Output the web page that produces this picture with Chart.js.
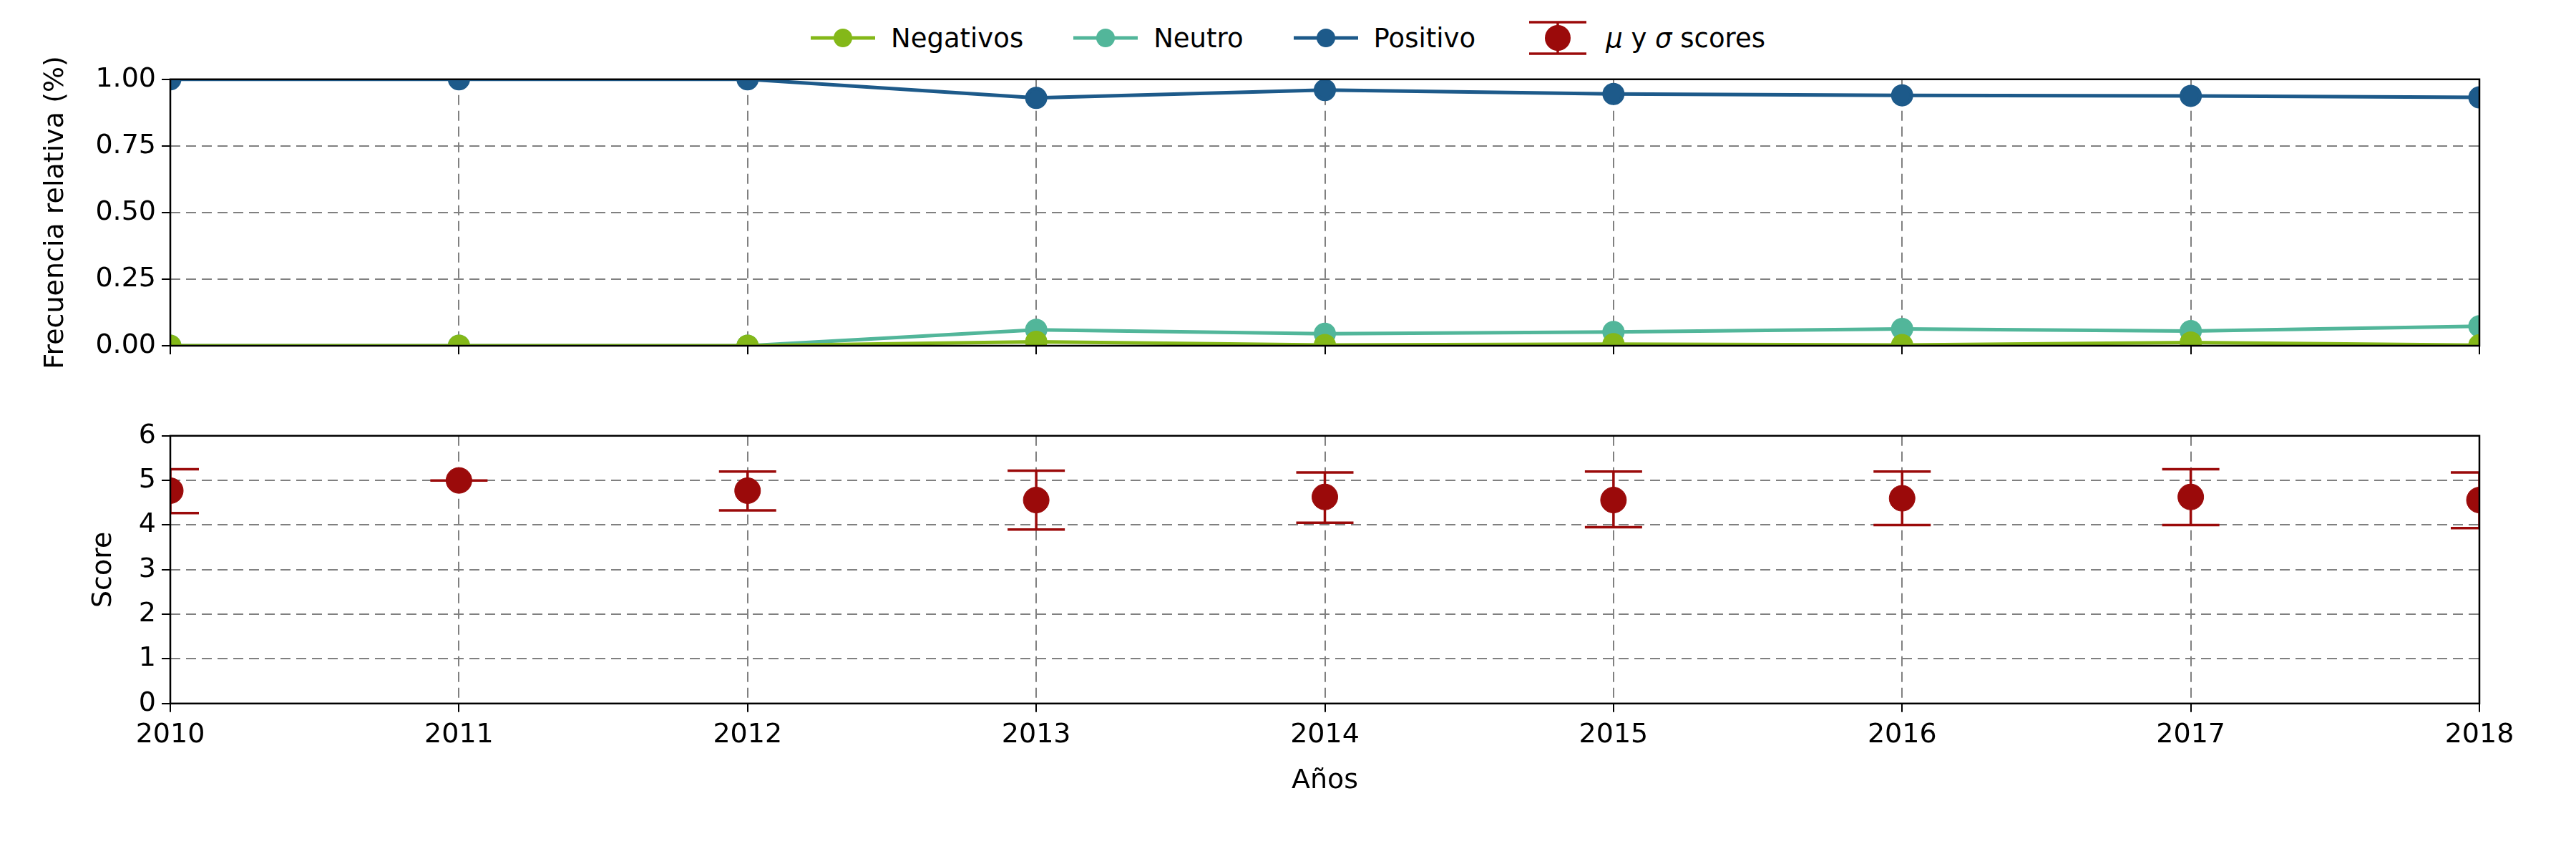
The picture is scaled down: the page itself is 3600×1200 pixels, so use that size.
<!DOCTYPE html>
<html>
<head>
<meta charset="utf-8">
<script src="https://cdn.jsdelivr.net/npm/chart.js@4/dist/chart.umd.min.js"></script>
<style>
body { margin: 0; background: #fff; width: 3600px; height: 1200px; position: relative; font-family: "DejaVu Sans", sans-serif; }
#legend { position: absolute; top: 28px; left: 0; width: 3600px; display: flex; justify-content: center; gap: 70px; font-size: 37px; color: #000; align-items: center; }
.item { display: flex; align-items: center; gap: 22px; }
#c1wrap { position: absolute; left: 0; top: 80px; width: 3600px; height: 480px; }
#c2wrap { position: absolute; left: 0; top: 578px; width: 3600px; height: 560px; }
</style>
</head>
<body>
<div id="legend"></div>
<div id="c1wrap"><canvas id="freqChart"></canvas></div>
<div id="c2wrap"><canvas id="scoreChart"></canvas></div>
<script>
const years = [2010, 2011, 2012, 2013, 2014, 2015, 2016, 2017, 2018];
const negativos = [0, 0, 0, 0.015, 0.003, 0.006, 0.003, 0.012, 0.002];
const neutro = [0, 0, 0, 0.06, 0.045, 0.052, 0.063, 0.055, 0.073];
const positivo = [1, 1, 1, 0.93, 0.96, 0.945, 0.94, 0.938, 0.932];
const scoreMean = [4.77, 5.0, 4.77, 4.56, 4.63, 4.56, 4.6, 4.63, 4.56];
const scoreLow = [4.27, 5.0, 4.33, 3.9, 4.05, 3.95, 4.0, 4.0, 3.93];
const scoreHigh = [5.25, 5.0, 5.2, 5.22, 5.18, 5.2, 5.2, 5.25, 5.18];
const freqTicks = [0, 0.25, 0.5, 0.75, 1.0];
const scoreTicks = [0, 1, 2, 3, 4, 5, 6];

const FONT = { family: 'DejaVu Sans', size: 38 };
const GRID = '#808080';
const RED = '#9b0a0a';

function pts(arr) { return arr.map((v, i) => ({ x: years[i], y: v })); }

// box around the plot area
const boxPlugin = {
    id: 'box',
    afterDraw(chart) {
        const a = chart.chartArea, c = chart.ctx;
        c.save();
        c.strokeStyle = '#000';
        c.lineWidth = 2.5;
        c.strokeRect(a.left, a.top, a.right - a.left, a.bottom - a.top);
        c.restore();
    }
};

// error bars for the score chart
const errorPlugin = {
    id: 'errorBars',
    beforeDatasetsDraw(chart) {
        const a = chart.chartArea, c = chart.ctx;
        const xs = chart.scales.x, ys = chart.scales.y;
        c.save();
        c.beginPath();
        c.rect(a.left, a.top, a.right - a.left, a.bottom - a.top);
        c.clip();
        c.strokeStyle = RED;
        c.lineWidth = 3.5;
        years.forEach((yr, i) => {
            const x = xs.getPixelForValue(yr);
            const y1 = ys.getPixelForValue(scoreLow[i]);
            const y2 = ys.getPixelForValue(scoreHigh[i]);
            c.beginPath();
            c.moveTo(x, y1); c.lineTo(x, y2);
            c.moveTo(x - 40, y1); c.lineTo(x + 40, y1);
            c.moveTo(x - 40, y2); c.lineTo(x + 40, y2);
            c.stroke();
        });
        c.restore();
    }
};

function xAxis(showTicks) {
    return {
        type: 'linear', min: 2010, max: 2018,
        afterBuildTicks: axis => { axis.ticks = years.map(v => ({ value: v })); },
        ticks: { display: showTicks, font: FONT, color: '#000', callback: v => String(v), maxRotation: 0, padding: 10 },
        grid: { color: GRID, lineWidth: 2, tickColor: '#000', tickLength: 12 },
        border: { display: false, dash: [14, 8] },
        title: showTicks ? { display: true, text: 'Años', font: FONT, color: '#000', padding: { top: 8 } } : { display: false }
    };
}

function yAxis(min, max, ticks, title, fmt, width) {
    return {
        min: min, max: max,
        afterBuildTicks: axis => { axis.ticks = ticks.map(v => ({ value: v })); },
        afterFit: axis => { axis.width = width; },
        ticks: { font: FONT, color: '#000', callback: fmt, padding: 8 },
        grid: { color: GRID, lineWidth: 2, tickColor: '#000', tickLength: 12 },
        border: { display: false, dash: [14, 8] },
        title: { display: true, text: title, font: FONT, color: '#000', padding: 0 }
    };
}

function lineSet(label, data, color) {
    return {
        label: label, data: pts(data), borderColor: color, backgroundColor: color,
        borderWidth: 5, pointRadius: 13, pointHoverRadius: 13, clip: 0
    };
}

new Chart(document.getElementById('freqChart'), {
    type: 'line',
    data: {
        datasets: [
            lineSet('Negativos', negativos, '#84b819'),
            lineSet('Neutro', neutro, '#52b69a'),
            lineSet('Positivo', positivo, '#1d5a8a')
        ]
    },
    options: {
        responsive: true, maintainAspectRatio: false, animation: false,
        layout: { padding: { top: 10, bottom: 65, right: 135, left: 55 } },
        scales: {
            x: xAxis(false),
            y: yAxis(0, 1, freqTicks, 'Frecuencia relativa (%)', v => v.toFixed(2), 183)
        },
        plugins: { legend: { display: false }, tooltip: { enabled: false } }
    },
    plugins: [boxPlugin]
});

new Chart(document.getElementById('scoreChart'), {
    type: 'scatter',
    data: {
        datasets: [{
            label: 'μ y σ scores', data: pts(scoreMean), backgroundColor: RED, borderColor: RED,
            pointRadius: 18, pointHoverRadius: 18, clip: 0
        }]
    },
    options: {
        responsive: true, maintainAspectRatio: false, animation: false,
        layout: { padding: { top: 20, bottom: 20, right: 135, left: 122 } },
        scales: {
            x: xAxis(true),
            y: yAxis(0, 6, scoreTicks, 'Score', v => String(v), 116)
        },
        plugins: { legend: { display: false }, tooltip: { enabled: false } }
    },
    plugins: [errorPlugin, boxPlugin]
});

// legend
const legendItems = [
    { label: 'Negativos', color: '#84b819', type: 'line' },
    { label: 'Neutro', color: '#52b69a', type: 'line' },
    { label: 'Positivo', color: '#1d5a8a', type: 'line' },
    { label: '<i>μ</i> y <i>σ</i> scores', color: RED, type: 'err' }
];
const leg = document.getElementById('legend');
legendItems.forEach(it => {
    const d = document.createElement('div');
    d.className = 'item';
    let svg;
    if (it.type === 'line') {
        svg = `<svg width="90" height="40"><line x1="0" y1="20" x2="90" y2="20" stroke="${it.color}" stroke-width="5"/><circle cx="45" cy="20" r="13" fill="${it.color}"/></svg>`;
    } else {
        svg = `<svg width="90" height="50"><line x1="45" y1="3" x2="45" y2="47" stroke="${it.color}" stroke-width="3.5"/><line x1="5" y1="3" x2="85" y2="3" stroke="${it.color}" stroke-width="3.5"/><line x1="5" y1="47" x2="85" y2="47" stroke="${it.color}" stroke-width="3.5"/><circle cx="45" cy="25" r="18" fill="${it.color}"/></svg>`;
    }
    d.innerHTML = svg + '<span>' + it.label + '</span>';
    leg.appendChild(d);
});
</script>
</body>
</html>
